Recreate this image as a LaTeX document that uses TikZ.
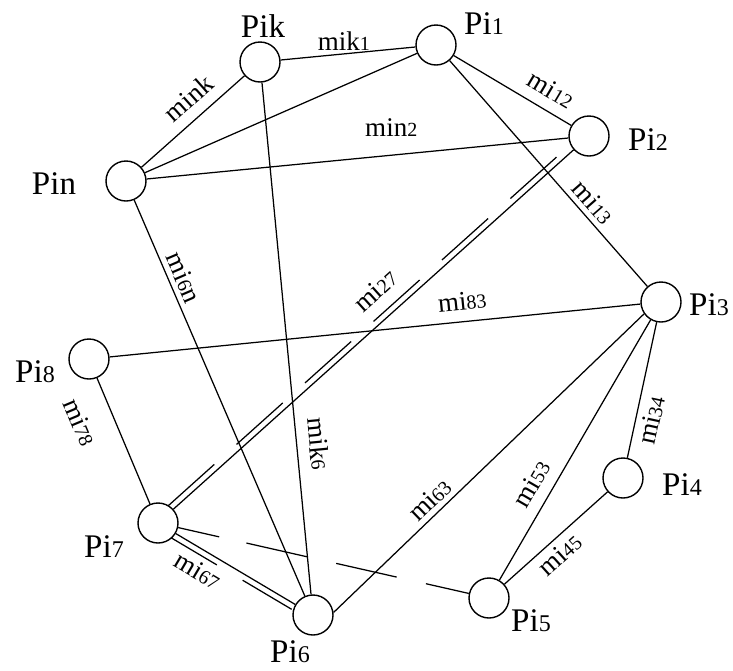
\documentclass[tikz,border=0pt]{standalone}
\usepackage{fontspec}
\setmainfont{Liberation Serif}
\usetikzlibrary{calc}
\newcommand\nd[1]{{\fontsize{24}{24}\selectfont #1}}
\newcommand\ed[1]{{\fontsize{20}{20}\selectfont #1}}
\begin{document}
\begin{tikzpicture}[x=1pt,y=-1pt,
  pnode/.style={circle,draw,line width=1.4pt,minimum size=40pt,inner sep=0pt},
  plabel/.style={font=\fontsize{33}{33}\selectfont,inner sep=0pt},
  link/.style={line width=1.25pt},
  elabel/.style={font=\fontsize{27}{27}\selectfont,inner sep=0pt},
  sl/.style={elabel,sloped}
]
\useasboundingbox (0,0) rectangle (733,670);
\fill[white] (0,0) rectangle (733,670);

% processor nodes
\node[pnode] (pik) at (260,62) {};
\node[pnode] (pi1) at (436,45) {};
\node[pnode] (pin) at (126,181) {};
\node[pnode] (pi2) at (589,136) {};
\node[pnode] (pi3) at (661,302) {};
\node[pnode] (pi8) at (89,359) {};
\node[pnode] (pi7) at (158,523) {};
\node[pnode] (pi6) at (313,615) {};
\node[pnode] (pi4) at (623,478) {};
\node[pnode] (pi5) at (489,598) {};

% node names
\node[plabel] (tik) at (263,26) {Pik};
\node[plabel] (ti1) at (484,24) {Pi\nd{1}};
\node[plabel] (tin) at (54,184) {Pin};
\node[plabel] (ti2) at (648,140) {Pi\nd{2}};
\node[plabel] (ti3) at (709,305) {Pi\nd{3}};
\node[plabel] (ti8) at (35,372) {Pi\nd{8}};
\node[plabel] (ti7) at (104,547) {Pi\nd{7}};
\node[plabel] (ti6) at (290,652) {Pi\nd{6}};
\node[plabel] (ti4) at (682,485) {Pi\nd{4}};
\node[plabel] (ti5) at (531,621) {Pi\nd{5}};

% single links
\draw[link] (pik) -- node[elabel,above=3pt,pos=0.47] (lmik1) {mik\ed{1}} (pi1);
\draw[link] (pin) -- node[sl,above=11pt,pos=0.59] (lmink) {mink} (pik);
\draw[link] (pin) -- (pi1);
\draw[link] (pin) -- node[elabel,above=18pt,pos=0.58] (lmin2) {min\ed{2}} (pi2);
\draw[link] (pi1) -- node[sl,above=11pt,pos=0.74] (lmi12) {mi\ed{12}} (pi2);
\draw[link] (pi1) -- node[sl,above=5pt,pos=0.67] (lmi13) {mi\ed{13}} (pi3);
\draw[link] (pin) -- node[sl,above=5pt,pos=0.21] (lmi6n) {mi\ed{6}n} (pi6);
\draw[link] (pik) -- node[sl,above=12pt,pos=0.71] (lmik6) {mik\ed{6}} (pi6);
\draw[link] (pi8) -- node[sl,above=11pt,pos=0.668] (lmi83) {mi\ed{83}} (pi3);
\draw[link] (pi8) -- node[sl,below=23pt,pos=0.25] (lmi78) {mi\ed{78}} (pi7);
\draw[link] (pi6.7) -- node[sl,above=5pt,pos=0.342] (lmi63) {mi\ed{63}} (pi3.215);
\draw[link] (pi5) -- node[sl,above=11pt,pos=0.33] (lmi53) {mi\ed{53}} (pi3);
\draw[link] (pi3) -- node[sl,below=6pt,pos=0.70] (lmi34) {mi\ed{34}} (pi4);
\draw[link] (pi4) -- node[sl,below=5pt,pos=0.56] (lmi45) {mi\ed{45}} (pi5);

% double link Pi7 - Pi2
\draw[link] (pi7) -- (pi2);
\draw[link,dash pattern=on 62pt off 30pt,shorten <=19pt,shorten >=19pt]
  ($(pi7.center)!6pt!90:(pi2.center)$) --
  node[sl,above=12pt,pos=0.547] (lmi27) {mi\ed{27}}
  ($(pi2.center)!6pt!-90:(pi7.center)$);

% double link Pi7 - Pi6
\draw[link] (pi7) -- (pi6);
\draw[link,dash pattern=on 53pt off 30pt on 57pt off 100pt,shorten <=19pt,shorten >=19pt]
  ($(pi7.center)!6pt!-90:(pi6.center)$) --
  node[sl,below=5pt,pos=0.324] (lmi67) {mi\ed{67}}
  ($(pi6.center)!6pt!90:(pi7.center)$);

% dashed link Pi7 - Pi5
\draw[link,dash pattern=on 42pt off 28pt on 62pt off 30pt on 62pt off 30pt on 45pt off 20pt] (pi7) -- (pi5);
\end{tikzpicture}
\end{document}
